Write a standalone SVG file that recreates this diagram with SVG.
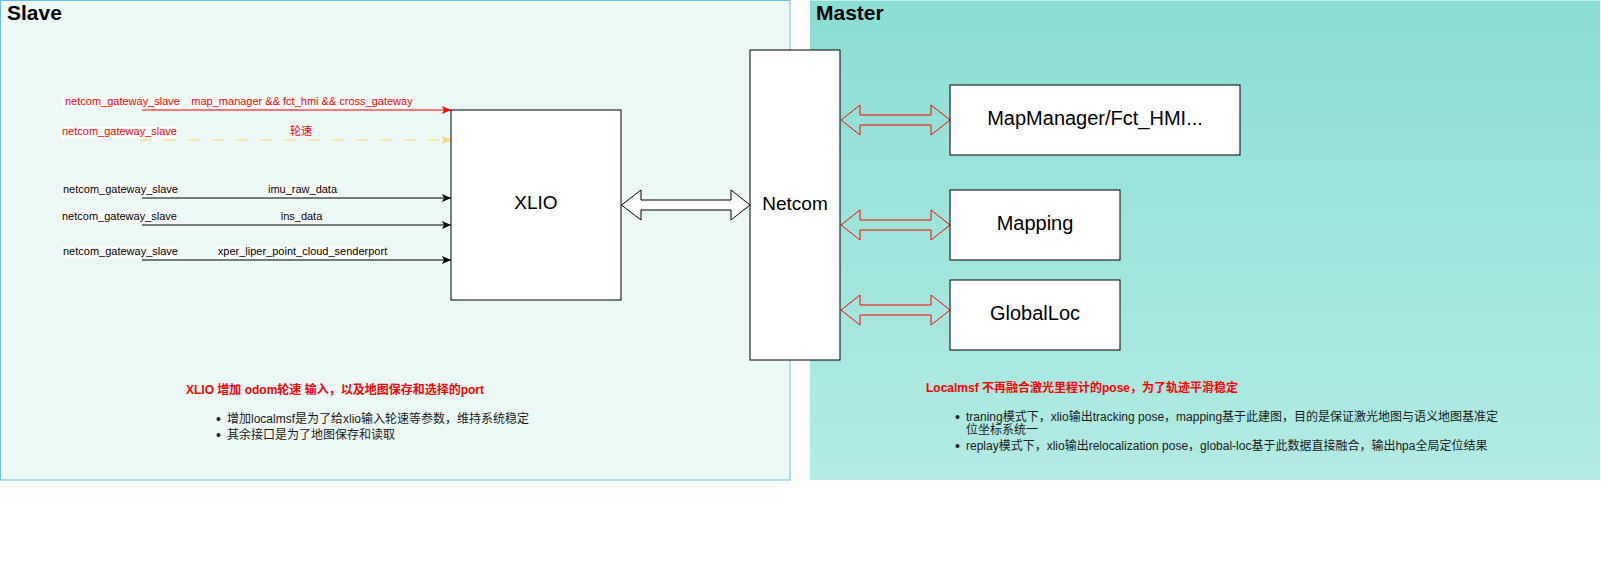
<svg xmlns="http://www.w3.org/2000/svg" width="1601" height="571" viewBox="0 0 1601 571">
<style>
  text { font-family: "Liberation Sans", "Noto Sans CJK SC", Arial, sans-serif; }
  .title { font-size: 21px; font-weight: bold; fill: #000; }
  .box { fill: #ffffff; stroke: #000000; stroke-width: 1; }
  .boxtxt { font-size: 20px; fill: #000; text-anchor: middle; }
  .lbl { font-size: 11px; }
  .red { fill: #ff0000; }
  .blk { fill: #000000; }
  .bg { fill: #ffffff; }
  .edge { fill: none; stroke-width: 1; }
  .flexB { fill: #ffffff; stroke: #000000; stroke-width: 1; }
  .flexR { fill: none; stroke: #ff0000; stroke-width: 1; }
  .head { font-size: 12px; font-weight: bold; fill: #ff0000; }
  .note { font-size: 12px; fill: #1a1a1a; }
</style>
<defs>
  <linearGradient id="masterGrad" x1="0" y1="0" x2="0" y2="1">
    <stop offset="0" stop-color="#8bded5"/>
    <stop offset="1" stop-color="#b2ebe3"/>
  </linearGradient>
  <marker id="arrBlack" markerUnits="userSpaceOnUse" viewBox="-10 -5 10 10" markerWidth="10" markerHeight="10" refX="0" refY="0" orient="auto">
    <path d="M-9,-4 L0,0 L-9,4 L-7,0 Z" fill="#000000"/>
  </marker>
  <marker id="arrRed" markerUnits="userSpaceOnUse" viewBox="-10 -5 10 10" markerWidth="10" markerHeight="10" refX="0" refY="0" orient="auto">
    <path d="M-9,-4 L0,0 L-9,4 L-7,0 Z" fill="#ff0000"/>
  </marker>
  <marker id="arrYellow" markerUnits="userSpaceOnUse" viewBox="-10 -5 10 10" markerWidth="10" markerHeight="10" refX="0" refY="0" orient="auto">
    <path d="M-9,-4 L0,0 L-9,4 L-7,0 Z" fill="#ffd966"/>
  </marker>
</defs>

<g id="slave">
  <rect x="0.5" y="0.5" width="789.5" height="479.5" fill="#edf9f7" stroke="#6dbfea" stroke-width="1"/>
  <text class="title" x="7" y="20">Slave</text>
</g>

<g id="master">
  <rect x="810" y="0.5" width="790" height="479.5" fill="url(#masterGrad)"/>
  <text class="title" x="816" y="20">Master</text>
</g>

<g id="connectors">
  <line class="edge" x1="142" y1="110" x2="451" y2="110" stroke="#ff0000" marker-end="url(#arrRed)"/>
  <line class="edge" x1="140" y1="140" x2="451" y2="140" stroke="#ffd966" stroke-dasharray="12 12" marker-end="url(#arrYellow)"/>
  <line class="edge" x1="142" y1="198" x2="451" y2="198" stroke="#000000" marker-end="url(#arrBlack)"/>
  <line class="edge" x1="142" y1="225" x2="451" y2="225" stroke="#000000" marker-end="url(#arrBlack)"/>
  <line class="edge" x1="142" y1="260" x2="451" y2="260" stroke="#000000" marker-end="url(#arrBlack)"/>

  <path class="flexB" d="M621.5,205 L641,190 L641,200 L731,200 L731,190 L750,205 L731,220 L731,210 L641,210 L641,220 Z"/>
  <path class="flexR" d="M841,120 L860,105 L860,115 L931,115 L931,105 L950,120 L931,135 L931,125 L860,125 L860,135 Z"/>
  <path class="flexR" d="M841,225 L860,210 L860,220 L931,220 L931,210 L950,225 L931,240 L931,230 L860,230 L860,240 Z"/>
  <path class="flexR" d="M841,310 L860,295 L860,305 L931,305 L931,295 L950,310 L931,325 L931,315 L860,315 L860,325 Z"/>

  <!-- labels -->
  <rect class="bg" x="62.5" y="96" width="118" height="12"/>
  <text class="lbl red" x="65" y="105">netcom_gateway_slave</text>
  <rect class="bg" x="190.5" y="96" width="223" height="12"/>
  <text class="lbl red" x="302" y="105" text-anchor="middle">map_manager &amp;&amp; fct_hmi &amp;&amp; cross_gateway</text>

  <rect class="bg" x="61.5" y="126.5" width="114" height="12"/>
  <text class="lbl red" x="62" y="135">netcom_gateway_slave</text>
  <text class="lbl red" x="301" y="135" text-anchor="middle">轮速</text>

  <rect class="bg" x="62.5" y="184" width="114" height="12.5"/>
  <text class="lbl blk" x="63" y="193">netcom_gateway_slave</text>
  <rect class="bg" x="268" y="184" width="69" height="12.5"/>
  <text class="lbl blk" x="302.5" y="193" text-anchor="middle">imu_raw_data</text>

  <rect class="bg" x="61.5" y="211" width="114" height="12.5"/>
  <text class="lbl blk" x="62" y="220">netcom_gateway_slave</text>
  <rect class="bg" x="281" y="211" width="41" height="12.5"/>
  <text class="lbl blk" x="301.5" y="220" text-anchor="middle">ins_data</text>

  <rect class="bg" x="62.5" y="246" width="114" height="12.5"/>
  <text class="lbl blk" x="63" y="255">netcom_gateway_slave</text>
  <rect class="bg" x="218" y="246" width="169" height="12.5"/>
  <text class="lbl blk" x="302.5" y="255" text-anchor="middle">xper_liper_point_cloud_senderport</text>
</g>

<g id="xlio">
  <rect class="box" x="451" y="110" width="170" height="190"/>
  <text class="boxtxt" x="536" y="209" font-size="19" style="font-size:19px">XLIO</text>
</g>

<g id="netcom">
  <rect class="box" x="750" y="50" width="90" height="310"/>
  <text class="boxtxt" x="795" y="210" style="font-size:19px">Netcom</text>
</g>

<g id="mapmanager">
  <rect class="box" x="950" y="85" width="290" height="70"/>
  <text class="boxtxt" x="1095" y="125">MapManager/Fct_HMI...</text>
</g>

<g id="mapping">
  <rect class="box" x="950" y="190" width="170" height="70"/>
  <text class="boxtxt" x="1035" y="230">Mapping</text>
</g>

<g id="globalloc">
  <rect class="box" x="950" y="280" width="170" height="70"/>
  <text class="boxtxt" x="1035" y="320">GlobalLoc</text>
</g>

<g id="slave-note">
  <text class="head" x="186" y="394">XLIO 增加 odom轮速 输入，以及地图保存和选择的port</text>
  <circle cx="218.5" cy="419" r="2" fill="#1a1a1a"/>
  <text class="note" x="227" y="423">增加localmsf是为了给xlio输入轮速等参数，维持系统稳定</text>
  <circle cx="218.5" cy="435" r="2" fill="#1a1a1a"/>
  <text class="note" x="227" y="439">其余接口是为了地图保存和读取</text>
</g>

<g id="master-note">
  <text class="head" x="926" y="392">Localmsf 不再融合激光里程计的pose，为了轨迹平滑稳定</text>
  <circle cx="957.5" cy="417" r="2" fill="#1a1a1a"/>
  <text class="note" x="966" y="421">traning模式下，xlio输出tracking pose，mapping基于此建图，目的是保证激光地图与语义地图基准定</text>
  <text class="note" x="966" y="434">位坐标系统一</text>
  <circle cx="957.5" cy="446" r="2" fill="#1a1a1a"/>
  <text class="note" x="966" y="450">replay模式下，xlio输出relocalization pose，global-loc基于此数据直接融合，输出hpa全局定位结果</text>
</g>
</svg>
